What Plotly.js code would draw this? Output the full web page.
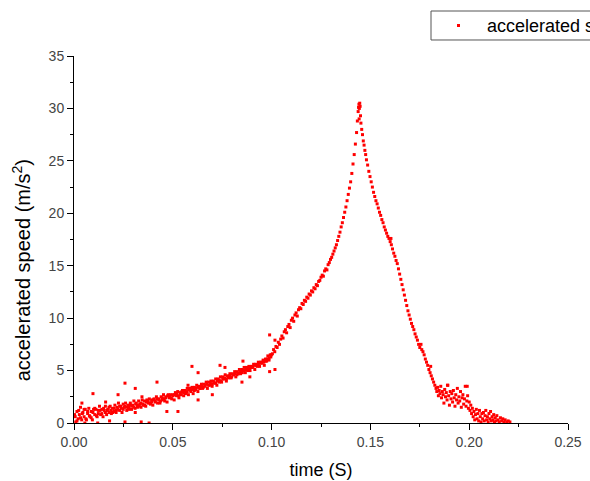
<!DOCTYPE html>
<html>
<head>
<meta charset="utf-8">
<script src="https://cdn.plot.ly/plotly-3.0.1.min.js"></script>
<style>html,body{margin:0;padding:0;background:#fff;overflow:hidden;}#chart{width:590px;height:481px;}</style>
</head>
<body>
<div id="chart"></div>
<script>
// Segment 1: slow rise (time in s, acceleration in m/s^2)
const riseT = [0.0003,0.0009,0.0015,0.0021,0.0027,0.0033,0.0039,0.0045,0.0051,0.0057,0.0063,0.0069,0.0075,0.0081,0.0087,0.0093,0.0099,0.0105,0.0111,0.0117,0.0123,0.0129,0.0135,0.0141,0.0147,0.0153,0.0159,0.0165,0.0171,0.0177,0.0183,0.0189,0.0195,0.0201,0.0207,0.0213,0.0219,0.0225,0.0231,0.0237,0.0243,0.0249,0.0255,0.0261,0.0267,0.0273,0.0279,0.0285,0.0291,0.0297,0.0303,0.0309,0.0315,0.0321,0.0327,0.0333,0.0339,0.0345,0.0351,0.0357,0.0363,0.0369,0.0375,0.0381,0.0387,0.0393,0.0399,0.0405,0.0411,0.0417,0.0423,0.0429,0.0435,0.0441,0.0447,0.0453,0.0459,0.0465,0.0471,0.0477,0.0483,0.0489,0.0495,0.0501,0.0507,0.0513,0.0519,0.0525,0.0531,0.0537,0.0543,0.0549,0.0555,0.0561,0.0567,0.0573,0.0579,0.0585,0.0591,0.0597,0.0603,0.0609,0.0615,0.0621,0.0627,0.0633,0.0639,0.0645,0.0651,0.0657,0.0663,0.0669,0.0675,0.0681,0.0687,0.0693,0.0699,0.0705,0.0711,0.0717,0.0723,0.0729,0.0735,0.0741,0.0747,0.0753,0.0759,0.0765,0.0771,0.0777,0.0783,0.0789,0.0795,0.0801,0.0807,0.0813,0.0819,0.0825,0.0831,0.0837,0.0843,0.0849,0.0855,0.0861,0.0867,0.0873,0.0879,0.0885,0.0891,0.0897,0.0903,0.0909,0.0915,0.0921,0.0927,0.0933,0.0939,0.0945,0.0951,0.0957,0.0963,0.0969,0.0975,0.0981,0.0987,0.0993,0.0999];
const riseA = [0.8,0.1,1.1,0.4,0.8,1.5,0.3,1.0,0.6,1.3,0.3,0.9,1.4,0.6,1.1,0.3,1.3,0.8,1.3,0.6,1.2,1.6,0.8,1.3,0.6,1.2,1.6,0.8,1.3,1.0,1.6,0.9,1.4,1.1,1.7,1.0,1.5,1.9,1.2,1.6,1.0,1.8,1.5,1.9,1.2,1.7,1.5,1.9,1.3,1.7,2.1,1.4,1.9,1.5,2.1,1.8,1.5,2.2,1.7,2.1,1.6,2.2,1.9,2.3,1.8,2.2,1.7,2.3,2.0,2.5,1.9,2.3,1.9,2.5,2.2,2.7,2.1,2.5,2.0,2.7,2.4,2.7,2.3,2.7,2.2,2.9,2.6,3.0,2.4,2.9,2.7,3.1,2.6,3.1,2.9,3.3,2.7,3.3,3.0,3.4,2.8,3.4,3.2,3.6,3.0,3.5,3.3,3.7,3.3,3.7,3.5,3.9,3.3,3.9,3.6,4.0,3.5,4.0,3.8,4.2,3.6,4.2,3.9,4.4,3.9,4.4,4.2,4.6,4.0,4.5,4.3,4.7,4.3,4.7,4.6,4.9,4.4,4.9,4.7,5.1,4.7,5.1,5.0,5.3,4.8,5.3,5.0,5.4,5.0,5.4,5.3,5.6,5.1,5.6,5.4,5.8,5.4,5.8,5.7,6.0,5.5,6.1,5.9,6.4,6.0,6.5,6.5];

// Second pass of readings in the same slow-rise stretch
const rise2T = [0.0006,0.0015,0.0024,0.0033,0.0042,0.0051,0.0060,0.0069,0.0078,0.0087,0.0096,0.0105,0.0114,0.0123,0.0132,0.0141,0.0150,0.0159,0.0168,0.0177,0.0186,0.0195,0.0204,0.0213,0.0222,0.0231,0.0240,0.0249,0.0258,0.0267,0.0276,0.0285,0.0294,0.0303,0.0312,0.0321,0.0330,0.0339,0.0348,0.0357,0.0366,0.0375,0.0384,0.0393,0.0402,0.0411,0.0420,0.0429,0.0438,0.0447,0.0456,0.0465,0.0474,0.0483,0.0492,0.0501,0.0510,0.0519,0.0528,0.0537,0.0546,0.0555,0.0564,0.0573,0.0582,0.0591,0.0600,0.0609,0.0618,0.0627,0.0636,0.0645,0.0654,0.0663,0.0672,0.0681,0.0690,0.0699,0.0708,0.0717,0.0726,0.0735,0.0744,0.0753,0.0762,0.0771,0.0780,0.0789,0.0798,0.0807,0.0816,0.0825,0.0834,0.0843,0.0852,0.0861,0.0870,0.0879,0.0888,0.0897,0.0906,0.0915,0.0924,0.0933,0.0942,0.0951,0.0960,0.0969,0.0978,0.0987,0.0996];
const rise2A = [0.6,0.2,1.2,0.5,0.9,1.3,0.4,1.1,0.7,0.5,1.0,1.4,0.7,0.9,1.2,0.9,1.4,1.0,1.2,1.5,1.2,1.0,1.4,1.2,1.3,1.6,1.4,1.3,1.6,1.5,1.3,1.7,1.6,1.5,1.8,1.7,1.6,1.9,1.8,1.7,2.0,2.1,1.9,2.0,2.2,2.1,2.3,2.2,2.1,2.4,2.3,2.4,2.6,2.5,2.4,2.6,2.7,2.8,2.6,2.7,3.0,2.9,2.8,3.0,3.2,3.1,3.2,3.1,3.3,3.4,3.3,3.5,3.4,3.6,3.7,3.6,3.8,3.7,3.9,3.8,4.0,4.1,4.0,4.2,4.3,4.2,4.4,4.5,4.4,4.6,4.7,4.6,4.8,4.9,4.8,5.0,5.1,5.2,5.2,5.3,5.4,5.5,5.5,5.6,5.7,5.8,5.8,5.9,6.1,6.2,6.3];

// Segment 2: steep rise to the peak
const peakT = [0.1004,0.1010,0.1016,0.1022,0.1028,0.1034,0.1040,0.1046,0.1052,0.1058,0.1064,0.1070,0.1076,0.1082,0.1088,0.1094,0.1100,0.1106,0.1112,0.1118,0.1124,0.1130,0.1136,0.1142,0.1148,0.1154,0.1160,0.1166,0.1172,0.1178,0.1184,0.1190,0.1196,0.1202,0.1208,0.1214,0.1220,0.1226,0.1232,0.1238,0.1244,0.1250,0.1256,0.1262,0.1268,0.1274,0.1280,0.1286,0.1292,0.1298,0.1304,0.1310,0.1316,0.1322,0.1328,0.1334,0.1340,0.1346,0.1352,0.1358,0.1364,0.1370,0.1376,0.1382,0.1388,0.1394,0.1400,0.1406,0.1412,0.1418,0.1424,0.1430,0.1434,0.1438,0.1440,0.1442,0.1443,0.1444,0.1446];
const peakA = [6.6,7.0,6.8,7.3,7.2,7.7,7.5,8.0,8.3,8.1,8.7,8.9,8.6,9.2,9.4,9.1,9.8,10.0,9.7,10.3,10.5,10.2,10.8,11.0,10.9,11.4,11.3,11.7,11.6,12.0,11.9,12.3,12.2,12.6,12.5,12.9,12.8,13.2,13.1,13.5,13.6,13.9,14.1,14.0,14.5,14.7,14.6,15.1,15.3,15.6,15.8,16.1,16.4,16.7,17.0,17.4,17.8,18.2,18.7,19.1,19.6,20.1,20.6,21.2,21.8,22.4,23.0,23.8,24.7,25.6,26.6,27.7,28.8,29.7,30.1,30.4,29.0,30.0,30.5];

// Segment 3: descent after the peak
const fallT = [0.1448,0.1450,0.1452,0.1456,0.1460,0.1464,0.1468,0.1472,0.1476,0.1480,0.1486,0.1492,0.1498,0.1504,0.1510,0.1516,0.1522,0.1528,0.1534,0.1540,0.1546,0.1552,0.1558,0.1564,0.1570,0.1576,0.1582,0.1588,0.1594,0.1600,0.1604,0.1606,0.1612,0.1618,0.1624,0.1630,0.1636,0.1642,0.1648,0.1654,0.1660,0.1666,0.1672,0.1678,0.1684,0.1690,0.1696,0.1702,0.1708,0.1714,0.1720,0.1726,0.1732,0.1738,0.1744,0.1750,0.1756,0.1760,0.1766,0.1772,0.1778,0.1784,0.1790,0.1796,0.1802,0.1808,0.1814,0.1820,0.1826,0.1832];
const fallA = [30.2,29.3,28.6,28.0,27.5,26.9,26.5,26.0,25.6,25.1,24.6,24.0,23.5,23.0,22.5,22.0,21.6,21.2,20.9,20.5,20.1,19.8,19.4,19.1,18.7,18.4,18.1,17.8,17.6,17.3,17.6,17.0,16.6,16.2,15.9,15.5,15.2,14.7,14.2,13.7,13.2,12.7,12.2,11.7,11.2,10.7,10.3,9.9,9.5,9.2,8.9,8.5,8.2,7.9,7.5,7.2,7.5,7.0,6.8,6.5,6.1,5.8,5.5,5.1,4.8,4.5,4.2,3.9,3.6,3.3];

// Segment 4: noisy tail back to zero
const tailT = [0.1836,0.1840,0.1844,0.1848,0.1852,0.1856,0.1860,0.1864,0.1868,0.1872,0.1876,0.1880,0.1884,0.1888,0.1892,0.1896,0.1900,0.1904,0.1908,0.1912,0.1916,0.1920,0.1924,0.1928,0.1932,0.1936,0.1940,0.1944,0.1948,0.1952,0.1956,0.1960,0.1964,0.1968,0.1972,0.1976,0.1980,0.1984,0.1988,0.1992,0.1996,0.2000,0.2004,0.2008,0.2012,0.2016,0.2020,0.2024,0.2028,0.2032,0.2036,0.2040,0.2044,0.2048,0.2052,0.2056,0.2060,0.2064,0.2068,0.2072,0.2076,0.2080,0.2084,0.2088,0.2092,0.2096,0.2100,0.2104,0.2108,0.2112,0.2116,0.2120,0.2124,0.2128,0.2132,0.2136,0.2140,0.2146,0.2152,0.2158,0.2164,0.2170,0.2176,0.2182,0.2190,0.2198,0.2206];
const tailA = [3.0,3.4,2.6,3.1,2.8,3.5,2.4,3.0,2.7,1.9,3.2,2.5,2.9,2.2,3.6,2.6,1.7,3.0,2.3,2.8,2.0,3.1,2.4,1.6,2.7,2.2,3.3,1.9,2.5,2.1,3.0,1.5,2.4,2.7,1.8,2.3,3.5,1.6,2.1,2.6,1.4,2.0,1.2,1.7,0.9,1.4,0.6,1.1,0.3,0.8,1.3,0.4,0.9,0.2,1.2,0.6,0.1,0.9,0.4,1.0,0.2,0.7,1.2,0.3,0.6,0.1,0.9,0.4,1.1,0.2,0.6,0.3,0.8,0.1,0.5,0.2,0.7,0.3,0.1,0.5,0.2,0.4,0.1,0.3,0.1,0.2,0.1];

// Stray readings away from the main band
const strayT = [0.0040,0.0096,0.0160,0.0223,0.0258,0.0310,0.0420,0.0344,0.0470,0.0526,0.0258,0.0340,0.0380,0.0310,0.0577,0.0597,0.0739,0.0764,0.0855,0.0850,0.0890,0.0990,0.0990,0.1017,0.1017,0.0628,0.0700,0.0628,0.0055,0.0120,0.0180,0.1890,0.1990,0.1805];
const strayA = [1.9,2.8,2.0,2.7,3.8,3.3,3.9,2.5,1.1,1.1,0.1,0.1,0.0,1.0,3.6,5.4,5.5,5.3,5.9,3.9,4.4,8.4,4.9,5.1,7.9,2.2,2.7,4.8,0.0,0.0,0.2,3.6,3.5,5.4];

const seriesName = 'accelerated speed';
const xTitle = 'time (S)';
const yTitle = 'accelerated speed (m/s<sup>2</sup>)';

const timeS = riseT.concat(rise2T, peakT, fallT, tailT, strayT);
const accel = riseA.concat(rise2A, peakA, fallA, tailA, strayA);

const FONT = 'Liberation Sans, Arial, sans-serif';

const trace = {
  x: timeS, y: accel,
  type: 'scatter', mode: 'markers',
  name: seriesName,
  showlegend: false,
  marker: {symbol: 'square', size: 3, color: '#ff0000', line: {width: 0}}
};

const layout = {
  width: 590, height: 481,
  margin: {l: 74, r: 22, t: 56, b: 58, autoexpand: false},
  paper_bgcolor: '#ffffff', plot_bgcolor: '#ffffff',
  font: {family: FONT, color: '#000'},
  showlegend: false,
  xaxis: {
    range: [0, 0.25], tick0: 0, dtick: 0.05, tickformat: '.2f',
    showgrid: false, zeroline: false,
    showline: true, linecolor: '#000', linewidth: 1,
    ticks: 'outside', ticklen: 6, tickwidth: 1, tickcolor: '#000',
    tickfont: {family: FONT, size: 14, color: '#444'},
    minor: {ticks: 'outside', ticklen: 3, tickwidth: 1, tickcolor: '#000', dtick: 0.025, showgrid: false},
    title: {text: xTitle, font: {family: FONT, size: 18, color: '#000'}, standoff: 14}
  },
  yaxis: {
    range: [0, 35], tick0: 0, dtick: 5,
    showgrid: false, zeroline: false,
    showline: true, linecolor: '#000', linewidth: 1,
    ticks: 'outside', ticklen: 6, tickwidth: 1, tickcolor: '#000',
    tickfont: {family: FONT, size: 14, color: '#444'},
    minor: {ticks: 'outside', ticklen: 3, tickwidth: 1, tickcolor: '#000', dtick: 2.5, showgrid: false}
  },
  // legend box (runs off the right edge, as in the original)
  shapes: [
    {type: 'rect', xref: 'paper', yref: 'paper', x0: 0.7227, x1: 1.2, y0: 1.0436, y1: 1.1226,
     line: {color: '#555555', width: 1}, fillcolor: '#ffffff', layer: 'above'},
    {type: 'rect', xref: 'paper', yref: 'paper', x0: 0.7753, x1: 0.7814, y0: 1.079, y1: 1.0872,
     line: {width: 0}, fillcolor: '#ff0000', layer: 'above'}
  ],
  annotations: [
    {text: seriesName, xref: 'paper', yref: 'paper', x: 0.832, y: 1.0831,
     xanchor: 'left', yanchor: 'middle', showarrow: false,
     font: {family: FONT, size: 18, color: '#000'}},
    {text: yTitle, xref: 'paper', yref: 'paper', x: -0.106, y: 0.415,
     xanchor: 'center', yanchor: 'middle', textangle: -90, showarrow: false,
     font: {family: FONT, size: 20, color: '#000'}}
  ]
};

Plotly.newPlot('chart', [trace], layout, {displayModeBar: false, staticPlot: true});
</script>
</body>
</html>
